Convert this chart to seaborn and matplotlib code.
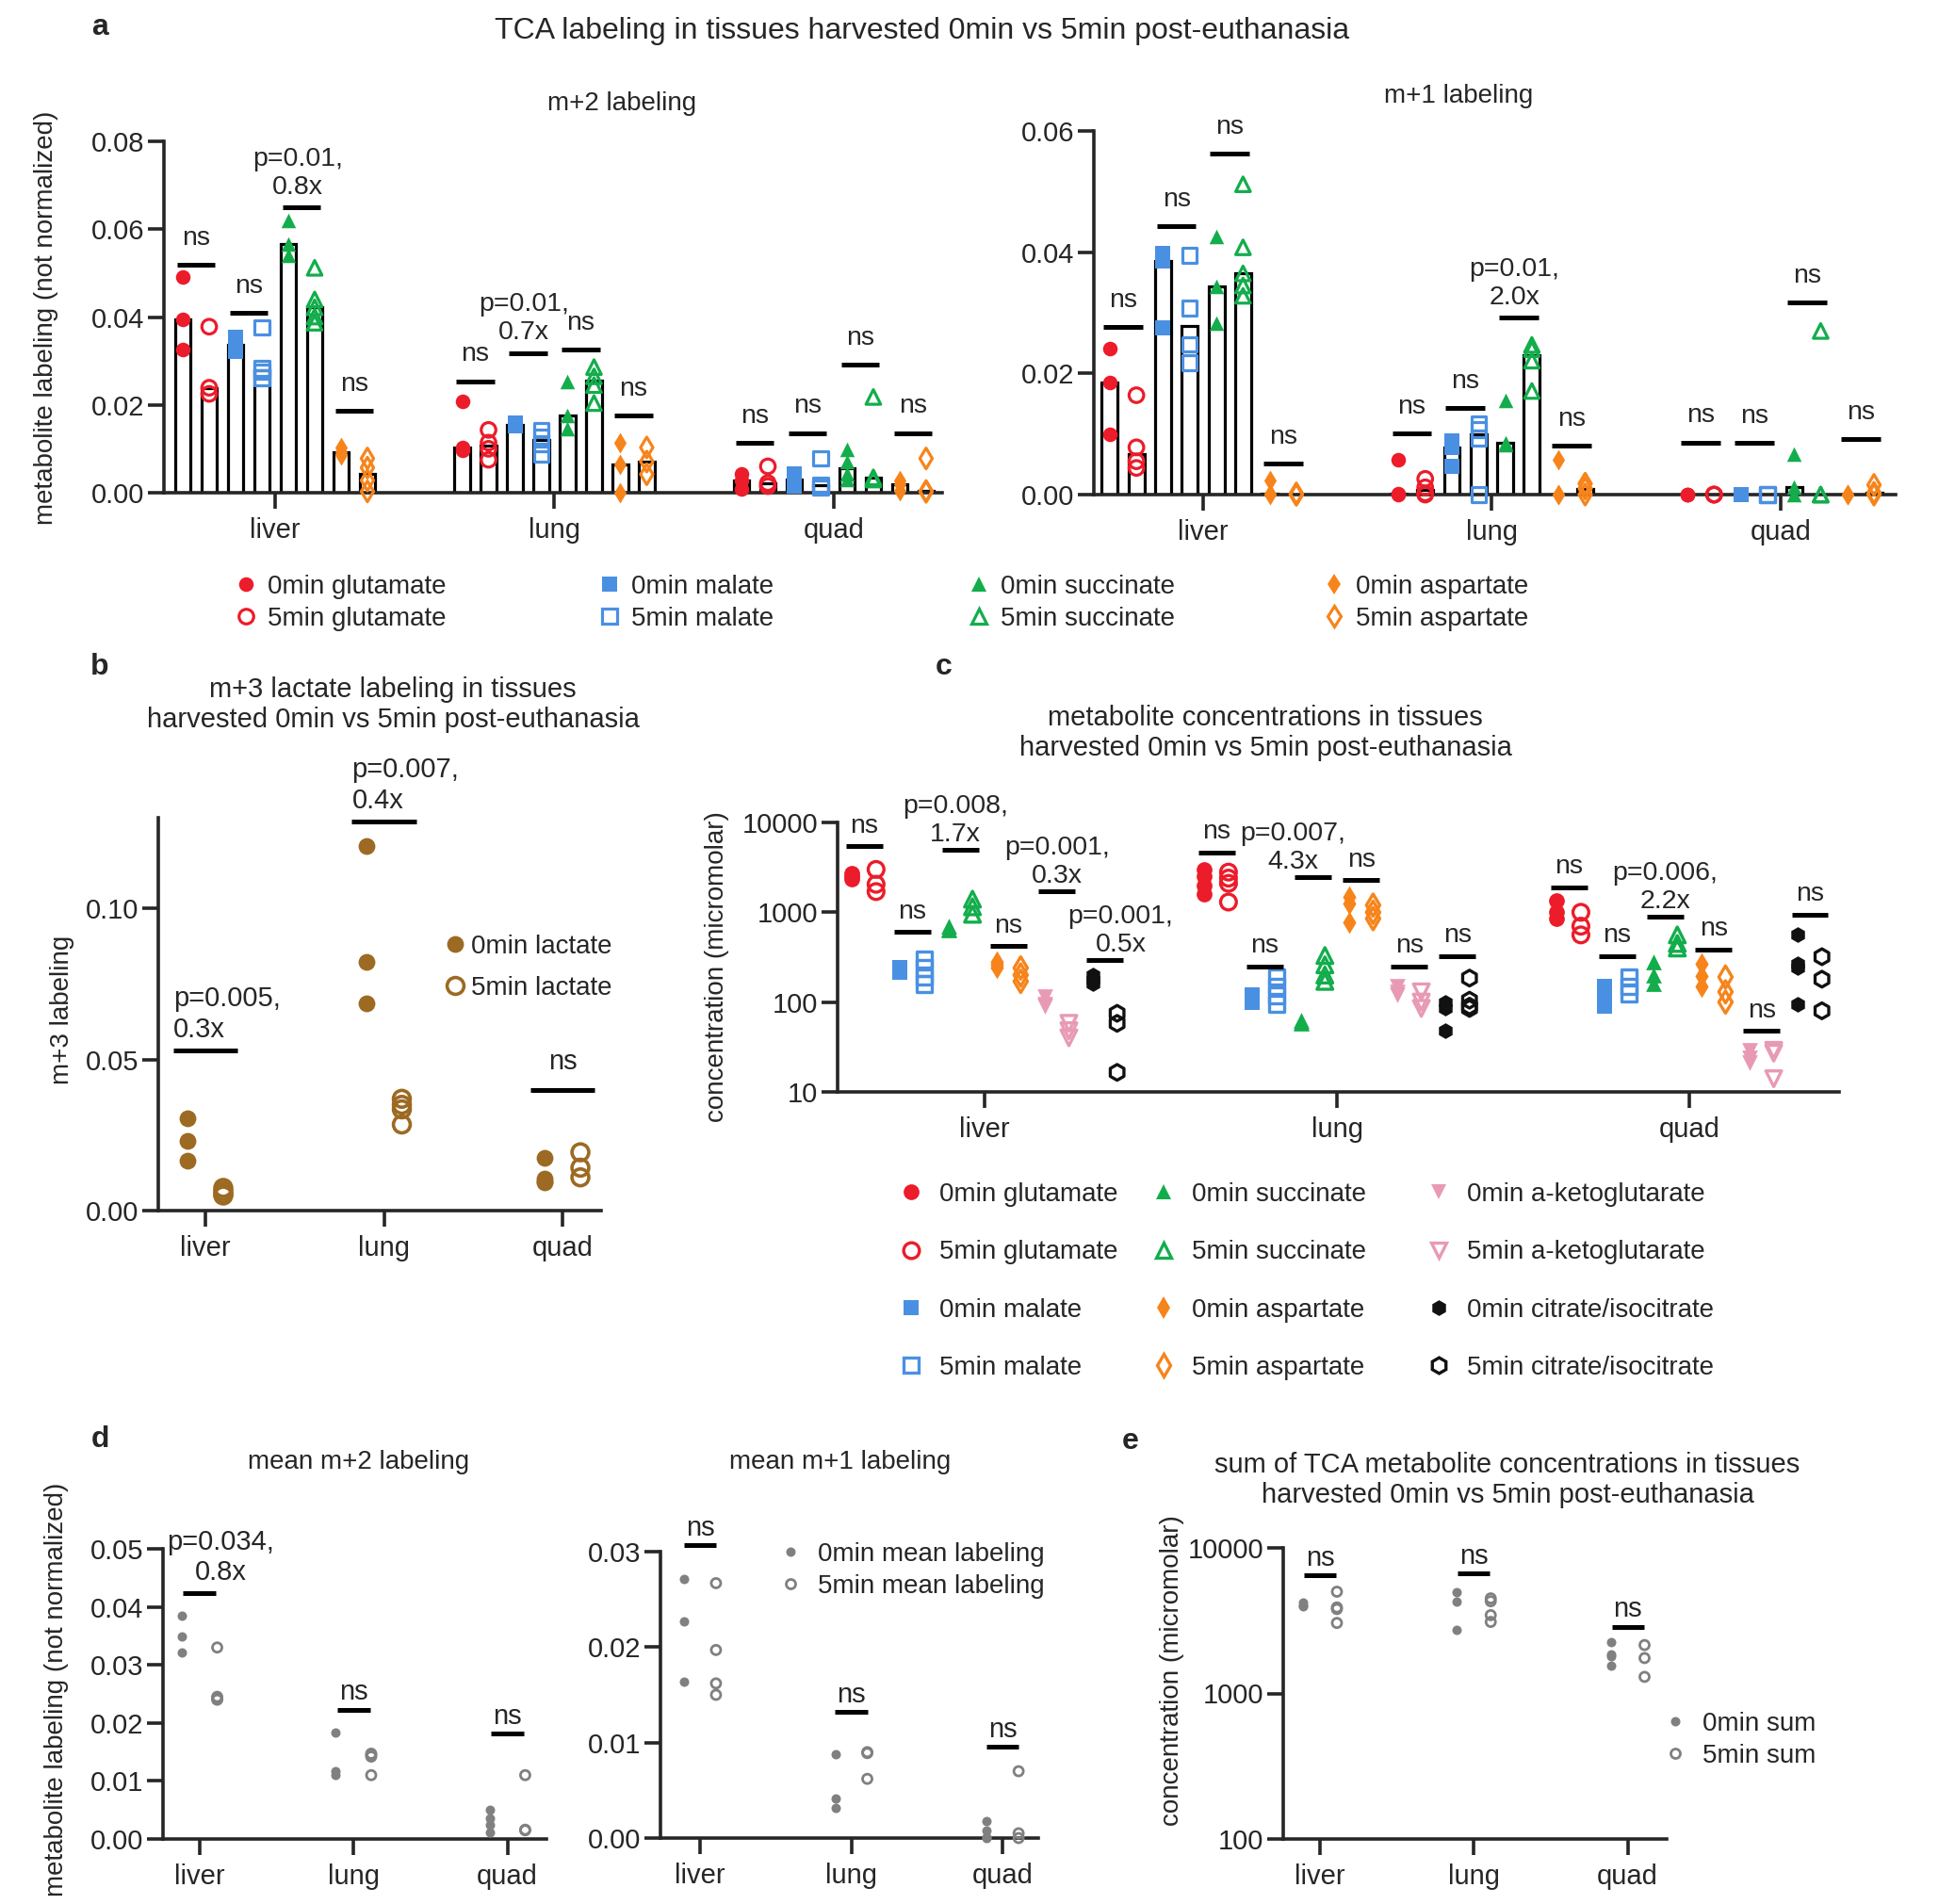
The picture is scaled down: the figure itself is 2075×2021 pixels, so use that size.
import matplotlib
matplotlib.use("Agg")
import matplotlib.pyplot as plt
from matplotlib.lines import Line2D
from matplotlib.ticker import FormatStrFormatter, NullLocator
import pandas as pd
import seaborn as sns

sns.set_style("ticks")
plt.rcParams["font.family"] = ["Liberation Sans", "DejaVu Sans"]
plt.rcParams["font.size"] = 20

TISSUES = ["liver", "lung", "quad"]

# ---- panel a, m+2 labeling (liver, lung, quad) ----
m2_glu0 = [[0.0492, 0.0394, 0.0327], [0.0209, 0.0102, 0.0097], [0.0042, 0.0027, 0.0008]]
m2_glu5 = [[0.0378, 0.0239, 0.0225], [0.0143, 0.0114, 0.0100, 0.0075], [0.0060, 0.0022, 0.0015]]
m2_mal0 = [[0.0354, 0.0336, 0.0322], [0.0158, 0.0155, 0.0152], [0.0042, 0.0030, 0.0016]]
m2_mal5 = [[0.0376, 0.0283, 0.0276, 0.0262], [0.0143, 0.0128, 0.0112, 0.0088], [0.0078, 0.0018, 0.0012]]
m2_suc0 = [[0.0619, 0.0566, 0.0540], [0.0254, 0.0175, 0.0146], [0.0099, 0.0071, 0.0042, 0.0030]]
m2_suc5 = [[0.0512, 0.0440, 0.0422, 0.0401, 0.0387], [0.0286, 0.0265, 0.0245, 0.0204], [0.0218, 0.0035, 0.0030]]
m2_asp0 = [[0.0102, 0.0092, 0.0085], [0.0114, 0.0064, 0.0001], [0.0028, 0.0020, 0.0005]]
m2_asp5 = [[0.0078, 0.0057, 0.0028, 0.0003], [0.0103, 0.0071, 0.0042], [0.0078, 0.0004, 0.0002]]
m2_sig = [[0.0519, 0.0409, 0.0650, 0.0186], [0.0254, 0.0318, 0.0325, 0.0175], [0.0113, 0.0136, 0.0292, 0.0136]]
m2_sig_txt = [["ns", "ns", "p=0.01,\n0.8x", "ns"], ["ns", "p=0.01,\n0.7x", "ns", "ns"], ["ns", "ns", "ns", "ns"]]

# ---- panel a, m+1 labeling ----
m1_glu0 = [[0.0241, 0.0185, 0.0099], [0.0057, 0.0001, 0.0], [0.0, 0.0, 0.0]]
m1_glu5 = [[0.0164, 0.0078, 0.0055, 0.0044], [0.0026, 0.0012, 0.0002, 0.0], [0.0, 0.0, 0.0]]
m1_mal0 = [[0.0398, 0.0385, 0.0275], [0.0088, 0.0078, 0.0047], [0.0, 0.0, 0.0]]
m1_mal5 = [[0.0395, 0.0308, 0.0248, 0.0218], [0.0117, 0.0107, 0.0093, 0.0], [0.0, 0.0, 0.0]]
m1_suc0 = [[0.0426, 0.0343, 0.0283], [0.0156, 0.0086, 0.0083], [0.0067, 0.0013, 0.0]]
m1_suc5 = [[0.0512, 0.0408, 0.0365, 0.0345, 0.0328], [0.0247, 0.0240, 0.0221, 0.0171], [0.0270, 0.0, 0.0]]
m1_asp0 = [[0.0024, 0.0001, 0.0], [0.0057, 0.0, 0.0], [0.0, 0.0, 0.0]]
m1_asp5 = [[0.0002, 0.0, 0.0], [0.0018, 0.0010, 0.0], [0.0016, 0.0003, 0.0]]
m1_sig = [[0.0277, 0.0443, 0.0562, 0.0051], [0.0101, 0.0143, 0.0292, 0.0081], [0.0086, 0.0085, 0.0317, 0.0091]]
m1_sig_txt = [["ns", "ns", "ns", "ns"], ["ns", "ns", "p=0.01,\n2.0x", "ns"], ["ns", "ns", "ns", "ns"]]

# ---- panel b, m+3 lactate ----
lac0 = [[0.0305, 0.0232, 0.0165], [0.1205, 0.0822, 0.0687], [0.0174, 0.0105, 0.0098, 0.0095]]
lac5 = [[0.0075, 0.0065, 0.0055, 0.0050], [0.0370, 0.0350, 0.0335, 0.0285], [0.0193, 0.0142, 0.0110]]
lac_sig = [[0.053], [0.1288], [0.040]]
lac_sig_txt = [["p=0.005,\n0.3x"], ["p=0.007,\n0.4x"], ["ns"]]

# ---- panel c, concentrations (micromolar) ----
c_glu0 = [[2700, 2500, 2350], [3000, 2500, 2000, 1600], [1350, 1000, 850]]
c_glu5 = [[3000, 2050, 1700], [2800, 2400, 2100, 1300], [1000, 700, 560]]
c_mal0 = [[240, 230, 215], [120, 108, 100], [150, 120, 100, 90]]
c_mal5 = [[300, 240, 190, 160], [190, 150, 118, 95], [190, 150, 125]]
c_suc0 = [[700, 660, 640], [62, 60, 58], [280, 200, 160]]
c_suc5 = [[1400, 1150, 950], [330, 260, 200, 170], [560, 450, 400]]
c_asp0 = [[280, 260, 240], [1500, 1250, 780], [270, 195, 150]]
c_asp5 = [[240, 200, 170], [1200, 1000, 850], [190, 130, 100]]
c_akg0 = [[115, 95, 90], [150, 130, 120], [29, 24, 21]]
c_akg5 = [[58, 48, 40], [130, 100, 85], [29, 27, 14]]
c_cit0 = [[200, 175, 160], [100, 85, 48], [570, 270, 240, 95]]
c_cit5 = [[75, 58, 16.5], [185, 105, 90, 85], [320, 180, 80]]
c_sig = [[5410, 605, 4990, 419, 1722, 294], [4670, 251, 2490, 2270, 251, 327], [1901, 327, 889, 386, 48, 948]]
c_sig_txt = [["ns", "ns", "p=0.008,\n1.7x", "ns", "p=0.001,\n0.3x", "p=0.001,\n0.5x"],
             ["ns", "ns", "p=0.007,\n4.3x", "ns", "ns", "ns"],
             ["ns", "ns", "p=0.006,\n2.2x", "ns", "ns", "ns"]]
# horizontal nudges of the p-value texts, in points
c_sig_dx = [[0, 0, -4, 0, 0, 12], [0, 0, -15, 0, 0, 0], [0, 0, 0, 0, 0, 0]]

# ---- panel d, mean labeling ----
dm2_0 = [[0.0385, 0.0349, 0.0322], [0.0184, 0.0117, 0.0111], [0.0050, 0.0036, 0.0025, 0.0012]]
dm2_5 = [[0.0330, 0.0245, 0.0242, 0.0240], [0.0147, 0.0145, 0.0142, 0.0110], [0.0110, 0.0016, 0.0015]]
dm2_sig = [[0.0423], [0.0223], [0.0182]]
dm2_sig_txt = [["p=0.034,\n0.8x"], ["ns"], ["ns"]]
dm1_0 = [[0.0271, 0.0227, 0.0164], [0.0088, 0.0041, 0.0032], [0.0018, 0.0008, 0.0001, 0.0]]
dm1_5 = [[0.0267, 0.0197, 0.0162, 0.0150], [0.0090, 0.0089, 0.0062], [0.0070, 0.0005, 0.0]]
dm1_sig = [[0.0307], [0.0132], [0.0096]]
dm1_sig_txt = [["ns"], ["ns"], ["ns"]]

# ---- panel e, summed concentrations ----
sum0 = [[4200, 4050, 3950], [5000, 4300, 2750], [2250, 1850, 1800, 1550]]
sum5 = [[5000, 3900, 3800, 3050], [4500, 4300, 3450, 3100], [2150, 1750, 1300]]
sum_sig = [[6450], [6720], [2880]]
sum_sig_txt = [["ns"], ["ns"], ["ns"]]

RED, BLUE, GREEN, ORANGE = "#EC1C2A", "#4A90E2", "#13AD4C", "#F7841A"
PINK, BLACK, GRAY, BROWN = "#E89AB5", "#111111", "#808080", "#9C6A22"

STYLE = {
    "0min glutamate": (RED, "o", True), "5min glutamate": (RED, "o", False),
    "0min malate": (BLUE, "s", True), "5min malate": (BLUE, "s", False),
    "0min succinate": (GREEN, "^", True), "5min succinate": (GREEN, "^", False),
    "0min aspartate": (ORANGE, "d", True), "5min aspartate": (ORANGE, "d", False),
    "0min a-ketoglutarate": (PINK, "v", True), "5min a-ketoglutarate": (PINK, "v", False),
    "0min citrate/isocitrate": (BLACK, "h", True), "5min citrate/isocitrate": (BLACK, "h", False),
    "0min lactate": (BROWN, "o", True), "5min lactate": (BROWN, "o", False),
    "0min mean labeling": (GRAY, "o", True), "5min mean labeling": (GRAY, "o", False),
    "0min sum": (GRAY, "o", True), "5min sum": (GRAY, "o", False),
}
TCA = list(STYLE)[:8]
TCA12 = list(STYLE)[:12]

W, H = 2075, 2021
fig = plt.figure(figsize=(W / 100, H / 100), dpi=100)


def box(x0, y0, x1, y1):
    return fig.add_axes([x0 / W, 1 - y1 / H, (x1 - x0) / W, (y1 - y0) / H])


def ftext(x, y, s, **kw):
    kw.setdefault("ha", "center")
    kw.setdefault("va", "center")
    fig.text(x / W, 1 - y / H, s, **kw)


def long_frame(names, groups):
    rows = [(t, name, v) for name, per_tissue in zip(names, groups)
            for t, vals in zip(TISSUES, per_tissue) for v in vals]
    return pd.DataFrame(rows, columns=["tissue", "series", "value"])


def draw_points(ax, df, names, step, size, lw):
    n = len(names)
    for i, name in enumerate(names):
        sub = df[df["series"] == name]
        x = sub["tissue"].map(TISSUES.index) + (i - (n - 1) / 2) * step
        color, marker, filled = STYLE[name]
        sns.scatterplot(x=x.to_numpy(), y=sub["value"].to_numpy(), ax=ax, marker=marker, s=size,
                        color=color, facecolor=color if filled else "none", edgecolor=color,
                        linewidth=0 if filled else lw, clip_on=False, zorder=4, legend=False)


def draw_sig(ax, levels, labels, step, n, half, ha="center", ns_off=6, txt_off=6, dx=0, dxs=None,
             fs=21):
    for t, (lv, lb) in enumerate(zip(levels, labels)):
        for p, (y, txt) in enumerate(zip(lv, lb)):
            x = t + (2 * p + 0.5 - (n - 1) / 2) * step
            ax.plot([x - half, x + half], [y, y], color="black", lw=3.6,
                    solid_capstyle="butt", clip_on=False, zorder=5)
            ns = txt == "ns"
            left = ha == "left" and not ns
            shift = 0 if ns else (dxs[t][p] if dxs else dx)
            ax.annotate(txt, (x - half if left else x, y),
                        xytext=(shift, ns_off if ns else txt_off), textcoords="offset points",
                        ha="left" if left else "center", va="bottom", fontsize=fs,
                        linespacing=1.2, annotation_clip=False)


def finish(ax, xlim, ylim, yticks, fmt=None, log=False):
    if log:
        ax.set_yscale("log")
    ax.set_xlim(xlim)
    ax.set_ylim(ylim)
    ax.set_xticks(range(3))
    ax.set_xticklabels(TISSUES)
    ax.set_yticks(yticks)
    if fmt:
        ax.yaxis.set_major_formatter(FormatStrFormatter(fmt))
    else:
        ax.set_yticklabels([str(v) for v in yticks])
    ax.yaxis.set_minor_locator(NullLocator())
    sns.despine(ax=ax)
    for s in ("left", "bottom"):
        ax.spines[s].set_linewidth(2.6)
    ax.tick_params(width=2.6, length=12, labelsize=21, pad=3)
    ax.tick_params(axis="x", pad=7)
    ax.set_xlabel("")
    ax.set_ylabel("")


def legend(names, x, y, size, rowgap, pad, lw):
    handles = []
    for name in names:
        color, marker, filled = STYLE[name]
        handles.append(Line2D([], [], ls="", marker=marker, ms=size ** 0.5, color=color,
                              mfc=color if filled else "none", mew=0 if filled else lw, label=name))
    fig.legend(handles=handles, loc="center left", bbox_to_anchor=(x / W, 1 - y / H),
               frameon=False, fontsize=20, handlelength=1.0, handletextpad=pad,
               labelspacing=rowgap, borderpad=0, borderaxespad=0)


def bar_panel(ax, groups, sig, sig_txt, step, xlim, ylim, yticks):
    df = long_frame(TCA, groups)
    sns.barplot(data=df, x="tissue", y="value", hue="series", order=TISSUES, hue_order=TCA,
                estimator="median", errorbar=None, palette={n: "white" for n in TCA}, saturation=1,
                width=8 * step, gap=0.4, edgecolor="black", linewidth=2.3, legend=False, ax=ax)
    draw_points(ax, df, TCA, step, 125, 2.3)
    draw_sig(ax, sig, sig_txt, step, 8, 0.068, ns_off=11, txt_off=6, dx=-3, fs=20.5)
    finish(ax, xlim, ylim, yticks, "%.2f")


# ---- panel a ----
ax_a1 = box(174, 150, 1000, 523)
bar_panel(ax_a1, [m2_glu0, m2_glu5, m2_mal0, m2_mal5, m2_suc0, m2_suc5, m2_asp0, m2_asp5],
          m2_sig, m2_sig_txt, 0.0944, (-0.398, 2.388), (0, 0.08), [0, 0.02, 0.04, 0.06, 0.08])
ax_a2 = box(1161, 139, 2012, 525)
bar_panel(ax_a2, [m1_glu0, m1_glu5, m1_mal0, m1_mal5, m1_suc0, m1_suc5, m1_asp0, m1_asp5],
          m1_sig, m1_sig_txt, 0.0923, (-0.378, 2.398), (0, 0.06), [0, 0.02, 0.04, 0.06])

ftext(106, 29, "a", fontsize=23, fontweight="bold")
ftext(979, 33, "TCA labeling in tissues harvested 0min vs 5min post-euthanasia", fontsize=23)
ftext(660, 110, "m+2 labeling", fontsize=20)
ftext(1548, 102, "m+1 labeling", fontsize=20)
ftext(49, 337, "metabolite labeling (not normalized)", fontsize=20, rotation=90)
for i, x in enumerate([261, 647, 1039, 1416]):
    legend(TCA[2 * i:2 * i + 2], x - 14, 640, 125, 0.3, 0.33, 2.3)

# ---- panel b ----
ax_b = box(168, 868, 638, 1285)
df_b = long_frame(["0min lactate", "5min lactate"], [lac0, lac5])
draw_points(ax_b, df_b, ["0min lactate", "5min lactate"], 0.2, 165, 2.6)
draw_sig(ax_b, lac_sig, lac_sig_txt, 0.2, 2, 0.18, ha="left", ns_off=11, txt_off=6)
finish(ax_b, (-0.264, 2.216), (0, 0.13), [0, 0.05, 0.10], "%.2f")
ftext(106, 708, "b", fontsize=23, fontweight="bold")
ftext(417, 748, "m+3 lactate labeling in tissues\nharvested 0min vs 5min post-euthanasia",
      fontsize=21, linespacing=1.2)
ftext(66, 1072, "m+3 labeling", fontsize=20, rotation=90)
legend(["0min lactate", "5min lactate"], 483 - 14, 1027, 165, 0.64, 0.12, 2.6)

# ---- panel c ----
ax_c = box(889, 873, 1952, 1159)
df_c = long_frame(TCA12, [c_glu0, c_glu5, c_mal0, c_mal5, c_suc0, c_suc5,
                          c_asp0, c_asp5, c_akg0, c_akg5, c_cit0, c_cit5])
draw_points(ax_c, df_c, TCA12, 0.0684, 145, 2.4)
draw_sig(ax_c, c_sig, c_sig_txt, 0.0684, 12, 0.052, ns_off=6, txt_off=2, dxs=c_sig_dx, fs=20.5)
finish(ax_c, (-0.417, 2.425), (10, 10000), [10, 100, 1000, 10000], log=True)
ftext(1002, 708, "c", fontsize=23, fontweight="bold")
ftext(1343, 778, "metabolite concentrations in tissues\nharvested 0min vs 5min post-euthanasia",
      fontsize=21, linespacing=1.2)
ftext(761, 1026, "concentration (micromolar)", fontsize=20, rotation=90)
for i, x in enumerate([967, 1235, 1527]):
    legend(TCA12[4 * i:4 * i + 4], x - 14, 1360, 145, 1.27, 0.58, 2.4)

# ---- panel d ----
ax_d1 = box(173, 1644, 580, 1952)
names_d = ["0min mean labeling", "5min mean labeling"]
df_d1 = long_frame(names_d, [dm2_0, dm2_5])
draw_points(ax_d1, df_d1, names_d, 0.23, 52, 2.0)
draw_sig(ax_d1, dm2_sig, dm2_sig_txt, 0.23, 2, 0.107, ns_off=3, txt_off=6, dx=16)
finish(ax_d1, (-0.237, 2.253), (0, 0.05), [0, 0.01, 0.02, 0.03, 0.04, 0.05], "%.2f")

ax_d2 = box(701, 1647, 1102, 1951)
df_d2 = long_frame(names_d, [dm1_0, dm1_5])
draw_points(ax_d2, df_d2, names_d, 0.21, 52, 2.0)
draw_sig(ax_d2, dm1_sig, dm1_sig_txt, 0.21, 2, 0.107, ns_off=3)
finish(ax_d2, (-0.262, 2.235), (0, 0.03), [0, 0.01, 0.02, 0.03], "%.2f")

ftext(106, 1528, "d", fontsize=23, fontweight="bold")
ftext(381, 1552, "mean m+2 labeling", fontsize=20)
ftext(892, 1552, "mean m+1 labeling", fontsize=20)
ftext(60, 1793, "metabolite labeling (not normalized)", fontsize=20, rotation=90)
legend(names_d, 839 - 14, 1667, 52, 0.3, 0.55, 2.0)

# ---- panel e ----
ax_e = box(1362, 1643, 1769, 1952)
names_e = ["0min sum", "5min sum"]
df_e = long_frame(names_e, [sum0, sum5])
draw_points(ax_e, df_e, names_e, 0.22, 52, 2.0)
draw_sig(ax_e, sum_sig, sum_sig_txt, 0.22, 2, 0.104, ns_off=3)
finish(ax_e, (-0.239, 2.254), (100, 10000), [100, 1000, 10000], log=True)
ftext(1200, 1530, "e", fontsize=23, fontweight="bold")
ftext(1600, 1571, "sum of TCA metabolite concentrations in tissues\nharvested 0min vs 5min post-euthanasia",
      fontsize=21, linespacing=1.2)
ftext(1244, 1773, "concentration (micromolar)", fontsize=20, rotation=90)
legend(names_e, 1778 - 14, 1847, 52, 0.3, 0.55, 2.0)

fig.savefig("out.png", dpi=100)
